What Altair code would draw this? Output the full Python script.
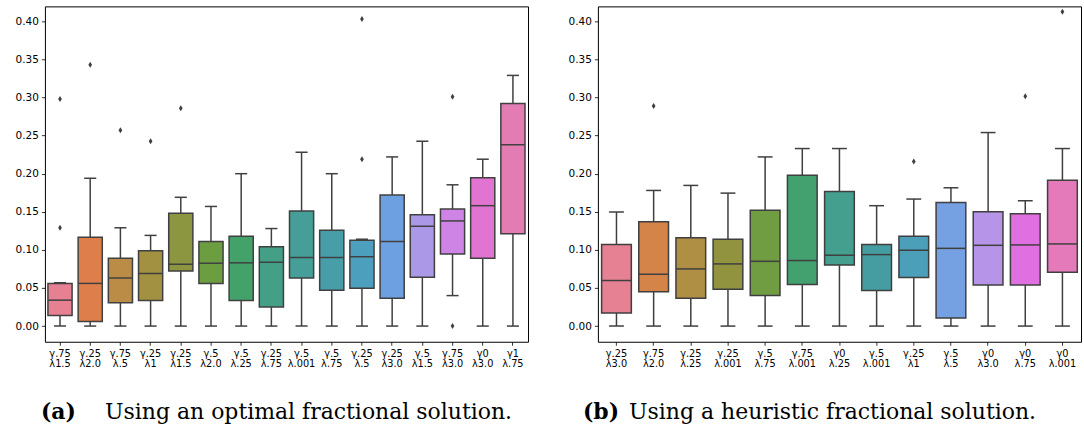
import math
import colorsys
import numpy as np
import pandas as pd
import altair as alt

# ---------------- data ----------------
left_labels = ["γ.75|λ1.5", "γ.25|λ2.0", "γ.75|λ.5", "γ.25|λ1", "γ.25|λ1.5", "γ.5|λ2.0",
               "γ.5|λ.25", "γ.25|λ.75", "γ.5|λ.001", "γ.5|λ.75", "γ.25|λ.5", "γ.25|λ3.0",
               "γ.5|λ1.5", "γ.75|λ3.0", "γ0|λ3.0", "γ1|λ.75"]
left_lo = [0.0, 0.0, 0.0, 0.0, 0.0, 0.0, 0.0, 0.0, 0.0, 0.0, 0.0, 0.0, 0.0, 0.040, 0.0, 0.0]
left_q1 = [0.014, 0.006, 0.0305, 0.0336, 0.0724, 0.0558, 0.0336, 0.0249, 0.063, 0.047,
           0.0497, 0.0366, 0.064, 0.0947, 0.089, 0.1213]
left_med = [0.034, 0.056, 0.063, 0.069, 0.081, 0.0825, 0.083, 0.0838, 0.090, 0.090,
            0.091, 0.111, 0.131, 0.138, 0.158, 0.238]
left_q3 = [0.056, 0.1165, 0.089, 0.099, 0.148, 0.111, 0.118, 0.104, 0.151, 0.1257,
           0.1126, 0.172, 0.146, 0.1536, 0.1946, 0.292]
left_hi = [0.057, 0.194, 0.129, 0.119, 0.169, 0.157, 0.200, 0.128, 0.228, 0.200,
           0.114, 0.222, 0.2426, 0.1854, 0.219, 0.329]
left_out_cat = ["γ.75|λ1.5", "γ.75|λ1.5", "γ.25|λ2.0", "γ.75|λ.5", "γ.25|λ1", "γ.25|λ1.5",
                "γ.25|λ.5", "γ.25|λ.5", "γ.75|λ3.0", "γ.75|λ3.0"]
left_out_val = [0.129, 0.298, 0.343, 0.257, 0.2426, 0.2858, 0.219, 0.403, 0.301, 0.0]

right_labels = ["γ.25|λ3.0", "γ.75|λ2.0", "γ.25|λ.25", "γ.25|λ.001", "γ.5|λ.75", "γ.75|λ.001",
                "γ0|λ.25", "γ.5|λ.001", "γ.25|λ1", "γ.5|λ.5", "γ0|λ3.0", "γ0|λ.75", "γ0|λ.001"]
right_lo = [0.0] * 13
right_q1 = [0.017, 0.045, 0.0366, 0.0484, 0.040, 0.0545, 0.080, 0.0467, 0.0637, 0.0105,
            0.054, 0.054, 0.0707]
right_med = [0.0598, 0.068, 0.075, 0.0816, 0.085, 0.086, 0.093, 0.0938, 0.0995, 0.102,
             0.106, 0.1065, 0.1078]
right_q3 = [0.107, 0.137, 0.116, 0.114, 0.152, 0.198, 0.1767, 0.107, 0.118, 0.1623,
            0.150, 0.1475, 0.1915]
right_hi = [0.1497, 0.178, 0.1846, 0.1745, 0.222, 0.233, 0.233, 0.158, 0.1667, 0.1815,
            0.254, 0.1645, 0.233]
right_out_cat = ["γ.75|λ2.0", "γ.25|λ1", "γ0|λ.75", "γ0|λ.001"]
right_out_val = [0.289, 0.216, 0.3015, 0.4127]

y_ticks = [0.0, 0.05, 0.10, 0.15, 0.20, 0.25, 0.30, 0.35, 0.40]

# ---------------- colours: seaborn husl palette, desaturated ----------------
_M = [[3.2406, -1.5372, -0.4986], [-0.9689, 1.8758, 0.0415], [0.0557, -0.2040, 1.0570]]
_REF_U, _REF_V = 0.19784, 0.46834
_LAB_E, _LAB_K = 0.008856, 903.3


def _max_chroma(L, H):
    hrad = math.radians(H)
    sinH, cosH = math.sin(hrad), math.cos(hrad)
    sub1 = (L + 16) ** 3 / 1560896.0
    sub2 = sub1 if sub1 > _LAB_E else L / _LAB_K
    result = float("inf")
    for m1, m2, m3 in _M:
        top = (0.99915 * m1 + 1.05122 * m2 + 1.14460 * m3) * sub2
        rbottom = 0.86330 * m3 - 0.17266 * m2
        lbottom = 0.12949 * m3 - 0.38848 * m1
        bottom = (rbottom * sinH + lbottom * cosH) * sub2
        for t in (0.0, 1.0):
            C = L * (top - 1.05122 * t) / (bottom + 0.17266 * sinH * t)
            if 0.0 < C < result:
                result = C
    return result


def _husl_to_rgb(H, S, L):
    C = _max_chroma(L, H) / 100.0 * S
    hrad = math.radians(H)
    U, V = math.cos(hrad) * C, math.sin(hrad) * C
    varY = ((L + 16) / 116.0) ** 3 if L > _LAB_K * _LAB_E else L / _LAB_K
    varU = U / (13.0 * L) + _REF_U
    varV = V / (13.0 * L) + _REF_V
    Y = varY
    X = -(9 * Y * varU) / ((varU - 4.0) * varV - varU * varV)
    Z = (9 * Y - 15 * varV * Y - varV * X) / (3 * varV)
    out = []
    for row in _M:
        c = row[0] * X + row[1] * Y + row[2] * Z
        c = 12.92 * c if c <= 0.0031308 else 1.055 * c ** (1 / 2.4) - 0.055
        out.append(min(max(c, 0.0), 1.0))
    return out


def husl_colors(n):
    hues = np.linspace(0, 1, n + 1)[:-1]
    hues = (hues + 0.01) % 1 * 359
    cols = []
    for h in hues:
        r, g, b = _husl_to_rgb(h, 0.9 * 99, 0.65 * 99)
        hh, ll, ss = colorsys.rgb_to_hls(r, g, b)
        r, g, b = colorsys.hls_to_rgb(hh, ll, ss * 0.75)
        cols.append((r, g, b))
    return cols


def to_hex(c):
    return "#%02x%02x%02x" % tuple(int(round(v * 255)) for v in c)


def gray_for(cols):
    lum = min(colorsys.rgb_to_hls(*c)[1] for c in cols) * 0.6
    return to_hex((lum, lum, lum))


# ---------------- layout ----------------
W, H = 484, 336
Y_DOMAIN = [-0.0206, 0.4196]
CAP_SIZE = 22


def panel(labels, lo, q1, med, q3, hi, out_cat, out_val, tag, text, tag_x, text_x):
    n = len(labels)
    cols = husl_colors(n)
    gray = gray_for(cols)
    step = W / n
    df = pd.DataFrame({"cat": labels, "lo": lo, "q1": q1, "med": med, "q3": q3,
                       "hi": hi, "color": [to_hex(c) for c in cols]})
    odf = pd.DataFrame({"cat": out_cat, "val": out_val})

    xenc = alt.X("cat:N",
                 scale=alt.Scale(domain=labels, paddingInner=0.2, paddingOuter=0.1),
                 axis=alt.Axis(title=None, labelAngle=0, labelExpr="split(datum.value, '|')",
                               labelFont="DejaVu Sans", labelFontSize=9.8,
                               labelLineHeight=10, labelColor="black",
                               labelPadding=3, tickSize=3.5, tickColor="black",
                               tickWidth=0.8, domain=False, labelBaseline="top"))
    yscale = alt.Scale(domain=Y_DOMAIN, nice=False, zero=False)
    yaxis = alt.Axis(title=None, values=y_ticks, format=".2f", grid=False, domain=False,
                     labelFont="DejaVu Sans", labelFontSize=10.5, labelColor="black",
                     tickSize=3.5, tickColor="black", tickWidth=0.8, labelPadding=3)

    base = alt.Chart(df)
    whisk_lo = base.mark_rule(color=gray, strokeWidth=1.5).encode(
        x=xenc, y=alt.Y("lo:Q", scale=yscale, axis=yaxis), y2="q1:Q")
    whisk_hi = base.mark_rule(color=gray, strokeWidth=1.5).encode(
        x=xenc, y=alt.Y("q3:Q", scale=yscale, axis=yaxis), y2="hi:Q")
    cap_lo = base.mark_tick(color=gray, size=step * 0.4, thickness=1.5, opacity=1).encode(
        x=xenc, y=alt.Y("lo:Q", scale=yscale, axis=yaxis))
    cap_hi = base.mark_tick(color=gray, size=step * 0.4, thickness=1.5, opacity=1).encode(
        x=xenc, y=alt.Y("hi:Q", scale=yscale, axis=yaxis))
    box = base.mark_bar(stroke=gray, strokeWidth=1.5, opacity=1).encode(
        x=xenc, y=alt.Y("q1:Q", scale=yscale, axis=yaxis), y2="q3:Q",
        color=alt.Color("color:N", scale=None, legend=None))
    median = base.mark_tick(color=gray, size=step * 0.8, thickness=1.5, opacity=1).encode(
        x=xenc, y=alt.Y("med:Q", scale=yscale, axis=yaxis))
    outl = alt.Chart(odf).mark_point(
        shape="M0,-1L0.62,0L0,1L-0.62,0Z", filled=True, size=36, color=gray, opacity=1
    ).encode(x=xenc, y=alt.Y("val:Q", scale=yscale, axis=yaxis))

    cap_tag = alt.Chart(pd.DataFrame({"t": [tag]})).mark_text(
        font="DejaVu Serif", fontSize=CAP_SIZE, fontWeight="bold", align="left",
        baseline="alphabetic", color="black"
    ).encode(x=alt.value(tag_x), y=alt.value(413), text="t:N")
    cap_text = alt.Chart(pd.DataFrame({"t": [text]})).mark_text(
        font="DejaVu Serif", fontSize=CAP_SIZE, align="right",
        baseline="alphabetic", color="black"
    ).encode(x=alt.value(text_x), y=alt.value(413), text="t:N")

    return alt.layer(whisk_lo, whisk_hi, cap_lo, cap_hi, box, median, outl,
                     cap_tag, cap_text).properties(width=W, height=H)


left = panel(left_labels, left_lo, left_q1, left_med, left_q3, left_hi,
             left_out_cat, left_out_val, "(a)", "Using an optimal fractional solution.",
             -4, 468)
right = panel(right_labels, right_lo, right_q1, right_med, right_q3, right_hi,
              right_out_cat, right_out_val, "(b)", "Using a heuristic fractional solution.",
              -15, 439)

chart = alt.hconcat(left, right, spacing=38).properties(
    padding={"left": 14, "top": 5, "right": 2, "bottom": 2}
).configure(background="white").configure_view(stroke="black", strokeWidth=1)

chart.save("out.html", embed_options={"renderer": "svg", "actions": False})
